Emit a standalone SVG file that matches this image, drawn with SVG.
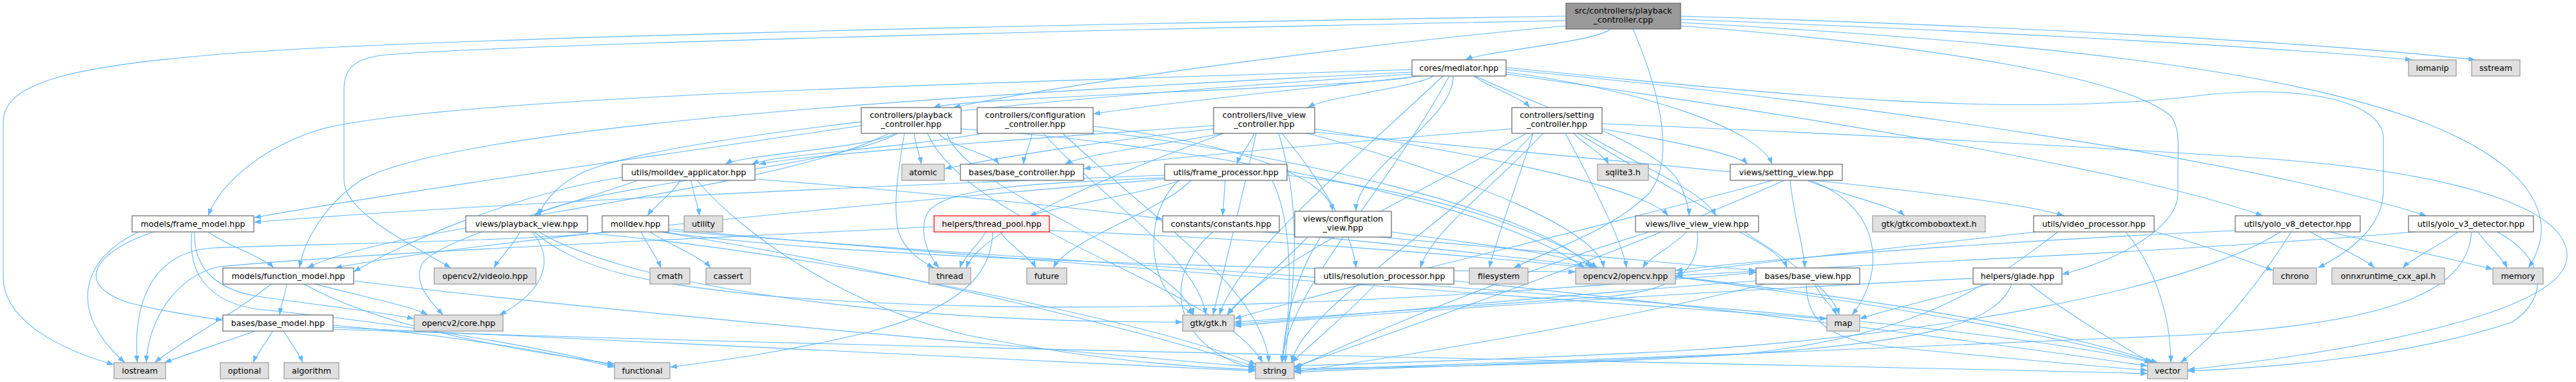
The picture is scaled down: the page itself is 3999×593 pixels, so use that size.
<svg xmlns="http://www.w3.org/2000/svg" width="3999" height="593" viewBox="0 0 3999 593">
<style>
.e path{fill:none;stroke:#63b8ff;stroke-width:1.1;marker-end:url(#arr)}
.n rect{stroke-width:1.2}
.w{fill:#ffffff;stroke:#666666}
.x{fill:#e0e0e0;stroke:#999999}
.r{fill:#999999;stroke:#666666}
.p{fill:#fff0f0;stroke:#ff0000}
text{font-family:"DejaVu Sans","Liberation Sans",sans-serif;font-size:12.7px;fill:#000;text-anchor:middle}
</style>
<defs>
<marker id="arr" markerWidth="11" markerHeight="8" refX="11" refY="4" orient="auto" markerUnits="userSpaceOnUse"><path d="M0,0 L11,4 L0,8 z" fill="#63b8ff"/></marker>
</defs>
<rect x="0" y="0" width="3999" height="593" fill="#ffffff"/>
<g id="connectors" class="e">
<path d="M2500,45 C2480,65 2300,80 2275,93"/>
<path d="M2431,40 C2000,80 1600,140 1480,167"/>
<path d="M2431,25 C1500,40 700,60 400,80 C100,100 5,130 5,190 L5,430 C5,500 100,545 177,566"/>
<path d="M2431,32 C1500,50 800,70 600,85 C545,90 534,110 534,140 L534,280 C534,330 640,380 700,416"/>
<path d="M2535,45 C2580,150 2600,250 2560,300 C2500,360 2400,390 2350,416"/>
<path d="M2609,30 C3000,45 3500,70 3745,93"/>
<path d="M2609,25 C3100,40 3600,65 3843,93"/>
<path d="M2609,35 C3350,75 3800,140 3920,290 C3950,330 3955,370 3925,416"/>
<path d="M2609,40 C3000,70 3300,120 3370,180 C3385,200 3381,230 3381,260 L3381,300 C3381,350 3300,400 3201,426"/>
<path d="M2198,118 C2150,135 1500,150 1449,167"/>
<path d="M2205,118 C2100,130 1800,160 1697,177"/>
<path d="M2225,118 C2200,135 2060,150 2030,167"/>
<path d="M2288,118 C2310,135 2360,150 2375,167"/>
<path d="M2192,108 C1500,130 700,150 500,200 C400,230 340,290 323,335"/>
<path d="M2192,112 C1400,150 700,200 560,280 C500,320 470,380 465,416"/>
<path d="M2192,115 C1500,160 1000,220 900,270 C860,290 840,320 837,335"/>
<path d="M2256,118 C2256,190 2105,260 2105,328"/>
<path d="M2290,118 C2400,170 2590,230 2610,290 C2618,310 2622,325 2622,335"/>
<path d="M2338,112 C2550,140 2730,200 2751,255"/>
<path d="M2338,115 C2800,180 3300,260 3513,335"/>
<path d="M2338,108 C2900,160 3500,250 3767,335"/>
<path d="M2338,105 C2700,140 3100,185 3400,150 C3550,130 3690,150 3700,210 L3700,296 C3700,350 3650,390 3598,416"/>
<path d="M2240,118 C2100,250 1920,400 1893,489"/>
<path d="M2250,118 C2150,300 2000,450 1990,563"/>
<path d="M1457,207 C1470,225 1540,240 1551,255"/>
<path d="M1419,207 C1421,225 1428,240 1430,255"/>
<path d="M1390,207 C1350,230 1150,240 1126,255"/>
<path d="M1394,207 C1300,260 900,290 829,335"/>
<path d="M1337,195 C1100,230 600,300 394,338"/>
<path d="M1380,207 C1200,300 600,350 477,416"/>
<path d="M1404,207 C1395,260 1385,320 1395,360 C1405,390 1430,405 1450,416"/>
<path d="M1470,207 C1500,300 1830,400 1853,489"/>
<path d="M1492,200 C1800,220 2300,300 2460,416"/>
<path d="M1440,207 C1500,350 1900,450 1960,563"/>
<path d="M1602,207 C1600,225 1590,240 1589,255"/>
<path d="M1525,207 C1400,230 1200,240 1167,255"/>
<path d="M1697,196 C1900,220 2060,270 2069,328"/>
<path d="M1620,207 C1700,300 1860,400 1872,489"/>
<path d="M1650,207 C1800,350 1960,450 1970,563"/>
<path d="M1697,203 C2000,240 2400,330 2470,416"/>
<path d="M1900,207 C1800,225 1680,240 1653,255"/>
<path d="M1884,200 C1700,220 1550,245 1466,262"/>
<path d="M1884,195 C1600,215 1250,240 1178,255"/>
<path d="M1947,207 C1940,225 1925,240 1920,255"/>
<path d="M2041,200 C2300,240 2550,290 2590,335"/>
<path d="M1990,207 C2050,280 2100,360 2105,416"/>
<path d="M2041,205 C2500,250 3100,300 3204,335"/>
<path d="M2030,207 C2300,280 2480,360 2490,416"/>
<path d="M1950,207 C1930,300 1900,420 1883,489"/>
<path d="M1900,207 C1700,280 1520,360 1500,416"/>
<path d="M1985,207 C2030,350 2000,480 1995,563"/>
<path d="M2347,200 C2100,220 1800,245 1682,262"/>
<path d="M2443,207 C2460,225 2490,240 2497,255"/>
<path d="M2487,200 C2600,220 2700,240 2713,255"/>
<path d="M2460,207 C2550,260 2650,300 2663,335"/>
<path d="M2395,207 C2330,280 2220,360 2205,416"/>
<path d="M2380,207 C2350,300 2320,380 2312,416"/>
<path d="M2430,207 C2480,300 2520,380 2525,416"/>
<path d="M2370,207 C2200,300 1950,420 1905,489"/>
<path d="M2380,207 C2250,350 2020,480 2005,563"/>
<path d="M2487,192 C2800,205 3200,225 3500,245 C3800,265 3990,320 3985,400 C3980,480 3700,540 3396,574"/>
<path d="M2450,207 C2600,300 2840,420 2855,489"/>
<path d="M1056,280 C1045,300 1015,320 1005,335"/>
<path d="M1073,280 C1076,300 1084,320 1086,335"/>
<path d="M1172,278 C1400,295 1700,325 1805,340"/>
<path d="M990,280 C880,320 680,370 655,410 C640,440 670,470 688,489"/>
<path d="M966,275 C800,300 620,380 549,422"/>
<path d="M1082,280 C1150,360 1300,470 1500,520 C1700,560 1850,570 1949,574"/>
<path d="M1832,280 C1780,300 1640,320 1598,335"/>
<path d="M1902,280 C1901,300 1899,320 1898,335"/>
<path d="M1849,280 C1800,330 1660,370 1635,416"/>
<path d="M1808,272 C1300,290 700,320 394,345"/>
<path d="M1808,278 C1300,320 700,380 520,416"/>
<path d="M1998,272 C2250,300 2420,370 2480,416"/>
<path d="M1830,280 C1785,320 1780,400 1810,450 C1830,475 1845,482 1853,489"/>
<path d="M1975,280 C2010,350 2005,480 1990,563"/>
<path d="M1810,276 C1600,285 1470,290 1440,330 C1425,360 1440,395 1458,416"/>
<path d="M2779,280 C2785,340 2800,380 2802,416"/>
<path d="M2806,280 C2850,300 2940,320 2957,335"/>
<path d="M2752,280 C2500,350 2100,440 1916,495"/>
<path d="M2770,280 C2500,400 2150,520 2009,570"/>
<path d="M2810,280 C2920,320 2930,420 2875,489"/>
<path d="M323,360 C350,380 410,400 425,416"/>
<path d="M238,360 C150,390 110,440 200,470 C260,485 310,492 346,497"/>
<path d="M215,360 C130,400 100,480 194,563"/>
<path d="M302,360 C300,420 340,450 400,460 C500,475 600,485 643,495"/>
<path d="M298,360 C290,430 330,470 400,480 C600,500 800,530 954,568"/>
<path d="M445,441 C442,460 436,475 434,489"/>
<path d="M421,441 C360,490 280,530 240,563"/>
<path d="M489,441 C560,460 640,475 664,489"/>
<path d="M472,441 C560,490 700,530 954,565"/>
<path d="M549,436 C900,480 1600,540 1949,570"/>
<path d="M396,514 C350,530 290,550 255,563"/>
<path d="M423,514 C415,530 398,550 393,563"/>
<path d="M440,514 C450,530 465,550 470,563"/>
<path d="M517,505 C700,520 850,545 954,570"/>
<path d="M517,508 C1000,530 1600,560 1949,576"/>
<path d="M517,511 C1500,545 2800,565 3334,580"/>
<path d="M807,360 C798,380 775,400 767,416"/>
<path d="M826,360 C860,400 850,450 775,489"/>
<path d="M829,360 C900,420 1000,440 1200,460 C1700,500 2300,460 2726,423"/>
<path d="M837,360 C950,430 1300,500 1836,500"/>
<path d="M880,360 C1200,380 1800,500 1950,566"/>
<path d="M948,360 C800,375 500,378 330,385 C250,390 205,450 213,563"/>
<path d="M995,360 C1005,380 1020,400 1026,416"/>
<path d="M1009,360 C1040,380 1090,400 1103,416"/>
<path d="M1030,360 C1300,400 2000,420 2446,422"/>
<path d="M1025,360 C1400,420 1800,520 1950,570"/>
<path d="M1035,358 C1800,420 3000,480 3340,563"/>
<path d="M1035,355 C1500,400 2500,470 2836,495"/>
<path d="M1530,360 C1520,380 1495,400 1490,416"/>
<path d="M1553,360 C1565,380 1600,400 1608,416"/>
<path d="M1541,360 C1540,420 1500,480 1330,520 C1200,550 1100,562 1040,570"/>
<path d="M1450,352 C1100,370 600,390 340,414 C270,430 230,500 227,563"/>
<path d="M1629,358 C2200,380 3000,450 3350,563"/>
<path d="M1883,360 C1800,430 1820,540 1949,573"/>
<path d="M1960,360 C2400,400 3000,470 3345,563"/>
<path d="M2140,368 C2400,390 2600,410 2726,420"/>
<path d="M2030,368 C1980,420 1930,460 1905,489"/>
<path d="M2050,368 C2010,430 1995,500 1990,563"/>
<path d="M2160,360 C2300,380 2440,395 2477,416"/>
<path d="M2618,360 C2600,380 2560,400 2550,416"/>
<path d="M2700,360 C2740,380 2768,400 2774,416"/>
<path d="M2635,360 C2640,420 2600,450 2500,460 C2200,480 2000,495 1916,500"/>
<path d="M2560,360 C2300,440 2100,530 2009,572"/>
<path d="M3160,360 C2900,390 2700,410 2601,425"/>
<path d="M3195,360 C3100,430 3000,520 2700,550 C2400,570 2100,570 2009,572"/>
<path d="M3300,360 C3350,420 3370,500 3370,563"/>
<path d="M3340,358 C3420,380 3490,405 3529,420"/>
<path d="M3587,360 C3620,380 3670,400 3686,416"/>
<path d="M3617,360 C3700,380 3820,405 3870,418"/>
<path d="M3557,360 C3500,450 3440,520 3385,563"/>
<path d="M3470,358 C3200,370 2800,395 2601,420"/>
<path d="M3540,360 C3400,450 3000,520 2600,545 C2300,560 2100,565 2009,568"/>
<path d="M3816,360 C3790,380 3745,400 3730,416"/>
<path d="M3847,360 C3860,380 3885,400 3892,416"/>
<path d="M3877,360 C3950,400 3960,460 3900,500 C3750,550 3550,570 3396,576"/>
<path d="M3837,360 C3830,440 3750,500 3400,520 C3000,540 2400,560 2009,575"/>
<path d="M3748,360 C3400,390 2900,410 2601,428"/>
<path d="M2817,441 C2825,460 2845,475 2851,489"/>
<path d="M2804,441 C2805,500 2840,530 2950,540 C3100,555 3250,568 3334,575"/>
<path d="M2726,436 C2400,460 2100,490 1916,503"/>
<path d="M2740,441 C2500,500 2200,550 2009,577"/>
<path d="M3063,432 C2700,450 2200,480 1916,506"/>
<path d="M3087,441 C3020,460 2930,480 2887,495"/>
<path d="M3123,441 C3100,500 3000,530 2700,550 C2400,565 2100,572 2009,578"/>
<path d="M3151,441 C3200,480 3280,530 3340,563"/>
<path d="M2135,441 C2100,480 2040,530 2005,563"/>
<path d="M2257,436 C2600,470 3000,520 3334,568"/>
</g>
<g class="n">
<g id="node_src_cpp"><rect class="r" x="2431" y="5" width="178" height="40"/><text x="2520" y="20.7">src/controllers/playback</text><text x="2520" y="34.7">_controller.cpp</text></g>
<g id="node_mediator"><rect class="w" x="2192" y="93" width="146" height="25"/><text x="2265" y="109.5">cores/mediator.hpp</text></g>
<g id="node_iomanip"><rect class="x" x="3739" y="93" width="74" height="25"/><text x="3776" y="109.5">iomanip</text></g>
<g id="node_sstream"><rect class="x" x="3837" y="93" width="75" height="25"/><text x="3874.5" y="109.5">sstream</text></g>
<g id="node_playback_controller"><rect class="w" x="1337" y="167" width="155" height="40"/><text x="1414.5" y="182.7">controllers/playback</text><text x="1414.5" y="196.7">_controller.hpp</text></g>
<g id="node_configuration_controller"><rect class="w" x="1517" y="167" width="180" height="40"/><text x="1607" y="182.7">controllers/configuration</text><text x="1607" y="196.7">_controller.hpp</text></g>
<g id="node_live_view_controller"><rect class="w" x="1884" y="167" width="157" height="40"/><text x="1962.5" y="182.7">controllers/live_view</text><text x="1962.5" y="196.7">_controller.hpp</text></g>
<g id="node_setting_controller"><rect class="w" x="2347" y="167" width="140" height="40"/><text x="2417" y="182.7">controllers/setting</text><text x="2417" y="196.7">_controller.hpp</text></g>
<g id="node_moildev_applicator"><rect class="w" x="966" y="255" width="206" height="25"/><text x="1069" y="271.5">utils/moildev_applicator.hpp</text></g>
<g id="node_atomic"><rect class="x" x="1400" y="255" width="66" height="25"/><text x="1433" y="271.5">atomic</text></g>
<g id="node_base_controller"><rect class="w" x="1491" y="255" width="191" height="25"/><text x="1586.5" y="271.5">bases/base_controller.hpp</text></g>
<g id="node_frame_processor"><rect class="w" x="1808" y="255" width="190" height="25"/><text x="1903" y="271.5">utils/frame_processor.hpp</text></g>
<g id="node_sqlite3"><rect class="x" x="2480" y="255" width="79" height="25"/><text x="2519.5" y="271.5">sqlite3.h</text></g>
<g id="node_setting_view"><rect class="w" x="2686" y="255" width="174" height="25"/><text x="2773" y="271.5">views/setting_view.hpp</text></g>
<g id="node_frame_model"><rect class="w" x="205" y="335" width="189" height="25"/><text x="299.5" y="351.5">models/frame_model.hpp</text></g>
<g id="node_playback_view"><rect class="w" x="723" y="335" width="189" height="25"/><text x="817.5" y="351.5">views/playback_view.hpp</text></g>
<g id="node_moildev"><rect class="w" x="935" y="335" width="103" height="25"/><text x="986.5" y="351.5">moildev.hpp</text></g>
<g id="node_utility"><rect class="x" x="1062" y="335" width="60" height="25"/><text x="1092" y="351.5">utility</text></g>
<g id="node_thread_pool"><rect class="p" x="1450" y="335" width="179" height="25"/><text x="1539.5" y="351.5">helpers/thread_pool.hpp</text></g>
<g id="node_constants"><rect class="w" x="1805" y="335" width="181" height="25"/><text x="1895.5" y="351.5">constants/constants.hpp</text></g>
<g id="node_configuration_view"><rect class="w" x="2010" y="328" width="150" height="40"/><text x="2085" y="343.7">views/configuration</text><text x="2085" y="357.7">_view.hpp</text></g>
<g id="node_live_view_view"><rect class="w" x="2539" y="335" width="191" height="25"/><text x="2634.5" y="351.5">views/live_view_view.hpp</text></g>
<g id="node_gtkcomboboxtext"><rect class="x" x="2907" y="335" width="175" height="25"/><text x="2994.5" y="351.5">gtk/gtkcomboboxtext.h</text></g>
<g id="node_video_processor"><rect class="w" x="3157" y="335" width="187" height="25"/><text x="3250.5" y="351.5">utils/video_processor.hpp</text></g>
<g id="node_yolo_v8"><rect class="w" x="3470" y="335" width="194" height="25"/><text x="3567" y="351.5">utils/yolo_v8_detector.hpp</text></g>
<g id="node_yolo_v3"><rect class="w" x="3739" y="335" width="194" height="25"/><text x="3836" y="351.5">utils/yolo_v3_detector.hpp</text></g>
<g id="node_function_model"><rect class="w" x="346" y="416" width="203" height="25"/><text x="447.5" y="432.5">models/function_model.hpp</text></g>
<g id="node_videoio"><rect class="x" x="674" y="416" width="158" height="25"/><text x="753" y="432.5">opencv2/videoio.hpp</text></g>
<g id="node_cmath"><rect class="x" x="1009" y="416" width="62" height="25"/><text x="1040" y="432.5">cmath</text></g>
<g id="node_cassert"><rect class="x" x="1096" y="416" width="69" height="25"/><text x="1130.5" y="432.5">cassert</text></g>
<g id="node_thread"><rect class="x" x="1442" y="416" width="65" height="25"/><text x="1474.5" y="432.5">thread</text></g>
<g id="node_future"><rect class="x" x="1594" y="416" width="62" height="25"/><text x="1625" y="432.5">future</text></g>
<g id="node_resolution_processor"><rect class="w" x="2041" y="416" width="216" height="25"/><text x="2149" y="432.5">utils/resolution_processor.hpp</text></g>
<g id="node_filesystem"><rect class="x" x="2281" y="416" width="91" height="25"/><text x="2326.5" y="432.5">filesystem</text></g>
<g id="node_opencv"><rect class="x" x="2446" y="416" width="155" height="25"/><text x="2523.5" y="432.5">opencv2/opencv.hpp</text></g>
<g id="node_base_view"><rect class="w" x="2726" y="416" width="161" height="25"/><text x="2806.5" y="432.5">bases/base_view.hpp</text></g>
<g id="node_glade"><rect class="w" x="3063" y="416" width="138" height="25"/><text x="3132" y="432.5">helpers/glade.hpp</text></g>
<g id="node_chrono"><rect class="x" x="3529" y="416" width="67" height="25"/><text x="3562.5" y="432.5">chrono</text></g>
<g id="node_onnx"><rect class="x" x="3620" y="416" width="175" height="25"/><text x="3707.5" y="432.5">onnxruntime_cxx_api.h</text></g>
<g id="node_memory"><rect class="x" x="3870" y="416" width="78" height="25"/><text x="3909" y="432.5">memory</text></g>
<g id="node_base_model"><rect class="w" x="346" y="489" width="171" height="25"/><text x="431.5" y="505.5">bases/base_model.hpp</text></g>
<g id="node_core"><rect class="x" x="643" y="489" width="138" height="25"/><text x="712" y="505.5">opencv2/core.hpp</text></g>
<g id="node_gtk"><rect class="x" x="1836" y="489" width="80" height="25"/><text x="1876" y="505.5">gtk/gtk.h</text></g>
<g id="node_map"><rect class="x" x="2836" y="489" width="51" height="25"/><text x="2861.5" y="505.5">map</text></g>
<g id="node_iostream"><rect class="x" x="177" y="563" width="80" height="25"/><text x="217" y="579.5">iostream</text></g>
<g id="node_optional"><rect class="x" x="342" y="563" width="75" height="25"/><text x="379.5" y="579.5">optional</text></g>
<g id="node_algorithm"><rect class="x" x="441" y="563" width="85" height="25"/><text x="483.5" y="579.5">algorithm</text></g>
<g id="node_functional"><rect class="x" x="954" y="563" width="86" height="25"/><text x="997" y="579.5">functional</text></g>
<g id="node_string"><rect class="x" x="1949" y="563" width="60" height="25"/><text x="1979" y="579.5">string</text></g>
<g id="node_vector"><rect class="x" x="3334" y="563" width="62" height="25"/><text x="3365" y="579.5">vector</text></g>
</g>
</svg>
